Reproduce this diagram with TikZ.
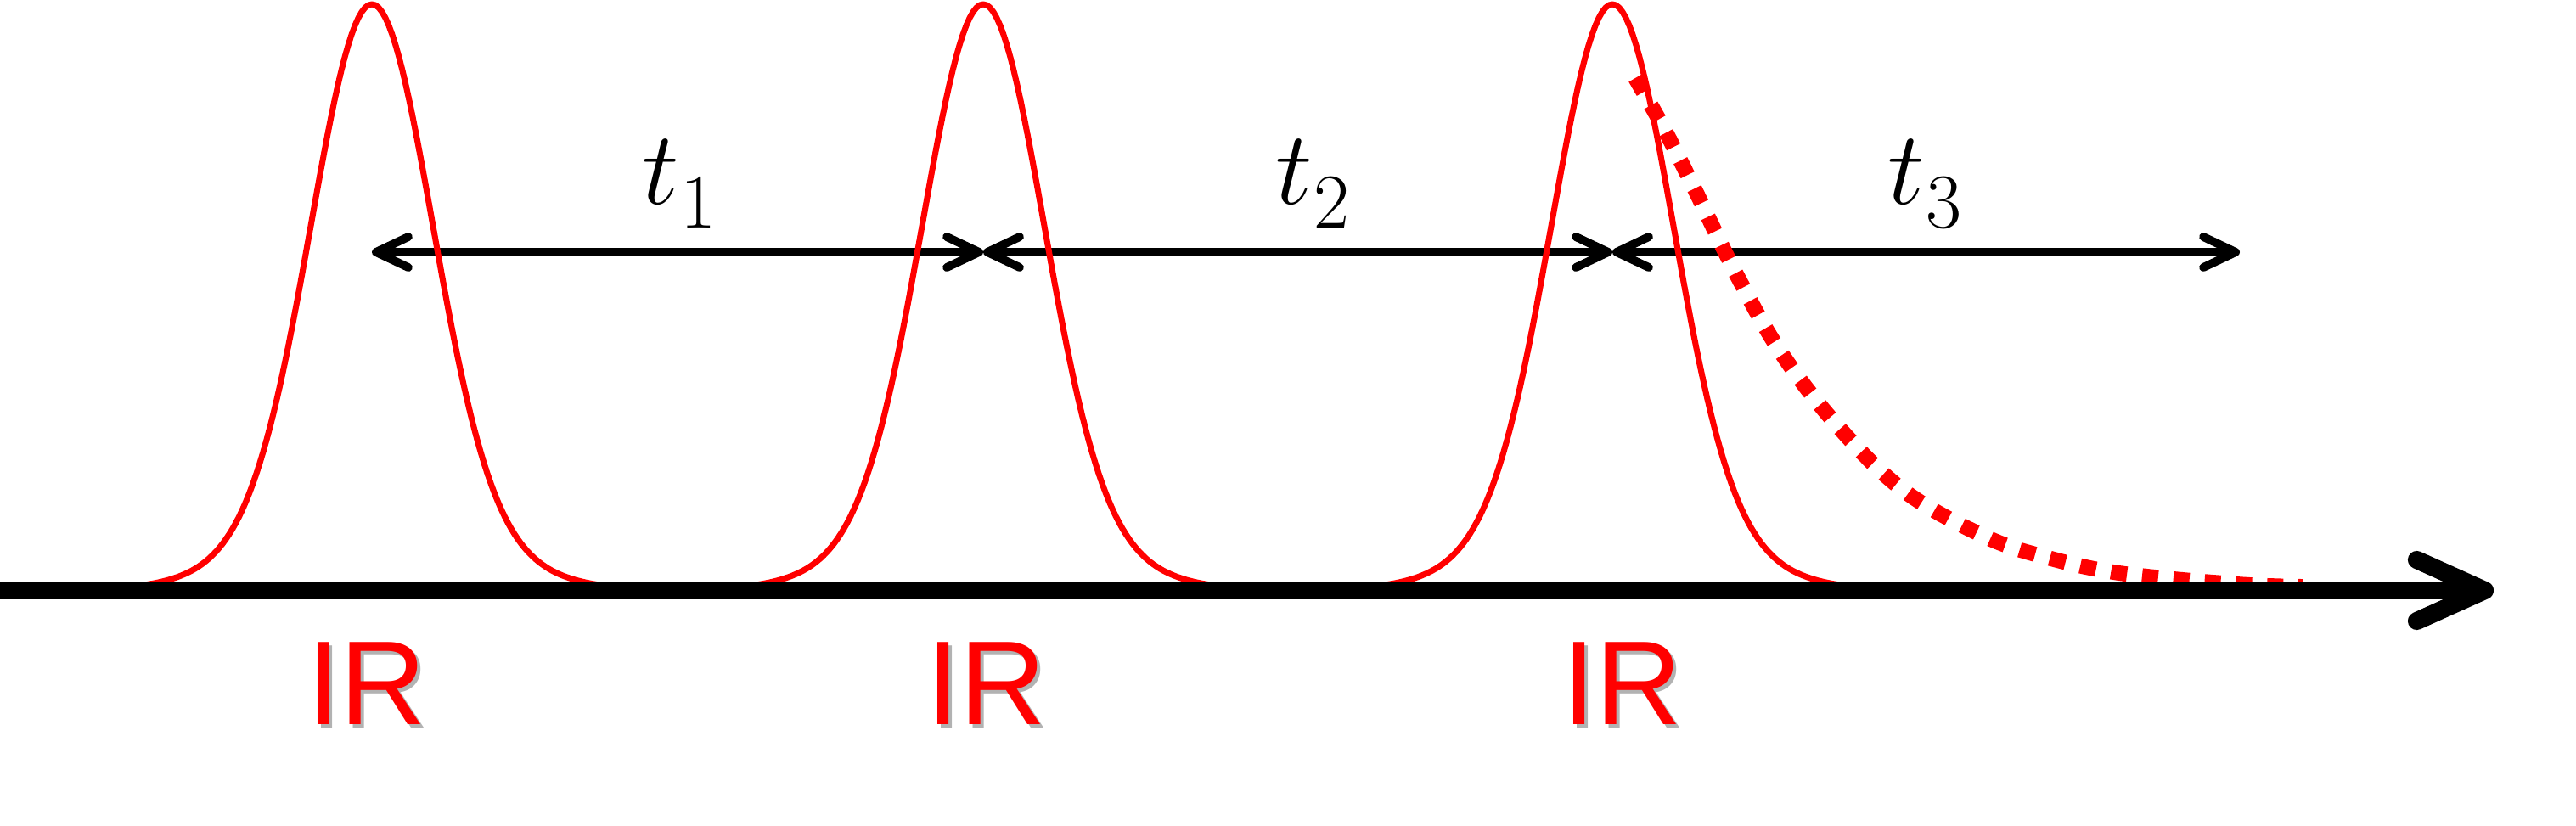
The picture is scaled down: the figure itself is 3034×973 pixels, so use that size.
\RequirePackage{fix-cm}
\documentclass[tikz,border=0pt]{standalone}
\usepackage{fontspec}
\newfontfamily\irfont{Liberation Sans}
\usetikzlibrary{arrows.meta}
\newcommand\tvar[1]{$t$\kern0.5pt\raisebox{-8pt}{\fontsize{26}{30}\selectfont #1}}
\begin{document}
\begin{tikzpicture}[x=0.01cm,y=-0.01cm,
  pulse/.style={draw=red, line width=2pt, line join=round},
  decay/.style={draw=red, line width=5.1pt, dash pattern=on 5.4pt off 5.1pt},
  span/.style={draw=black, line width=2.8pt,
    {Straight Barb[length=0.38cm,width=0.36cm,round]}-{Straight Barb[length=0.38cm,width=0.36cm,round]}},
  axisline/.style={draw=black, line width=6pt, -{Straight Barb[length=0.8cm,width=0.72cm,round]}},
  irlabel/.style={font=\irfont\fontsize{40}{46}\selectfont, text=red, inner sep=0, anchor=base},
  irshadow/.style={irlabel, text=black!30},
  tlabel/.style={font=\fontsize{35}{42}\selectfont, inner sep=0, anchor=base}
]
\useasboundingbox (0,0) rectangle (3034,973);
% interval arrows
\coordinate (p1) at (438,297);
\coordinate (p2) at (1158,297);
\coordinate (p3) at (1899,297);
\coordinate (e3) at (2638,297);
\draw[span] (p1) -- (p2);
\draw[span] (p2) -- (p3);
\draw[span] (p3) -- (e3);
% pulses
\foreach \c in {438,1158,1899}{
  \draw[pulse] plot[domain=-268:268, samples=135]
    ({\c+\x},{689-684*((0.86*exp(-0.5*(\x/70)^2)+0.14*exp(-0.5*(\x/115)^2))-0.0098)/0.9902});
}
% decay tail
\draw[decay] plot[smooth, tension=0.6] coordinates {(1926,92) (1960,152) (1996,223) (2045,323) (2098,416) (2168,506) (2245,580) (2340,633) (2412,657) (2483,673) (2560,682) (2650,689) (2712,691)};
% time axis
\coordinate (a0) at (0,695.5);
\coordinate (a1) at (2937,695.5);
\draw[axisline] (a0) -- (a1);
% labels
\node[tlabel] (t1) at (800,240) {\tvar{1}};
\node[tlabel] (t2) at (1546,240) {\tvar{2}};
\node[tlabel] (t3) at (2267,240) {\tvar{3}};
\node[irshadow] (ir1s) at (436,857) {IR};
\node[irlabel] (ir1) at (432,853) {IR};
\node[irshadow] (ir2s) at (1166,857) {IR};
\node[irlabel] (ir2) at (1162,853) {IR};
\node[irshadow] (ir3s) at (1915,857) {IR};
\node[irlabel] (ir3) at (1911,853) {IR};
\end{tikzpicture}
\end{document}
